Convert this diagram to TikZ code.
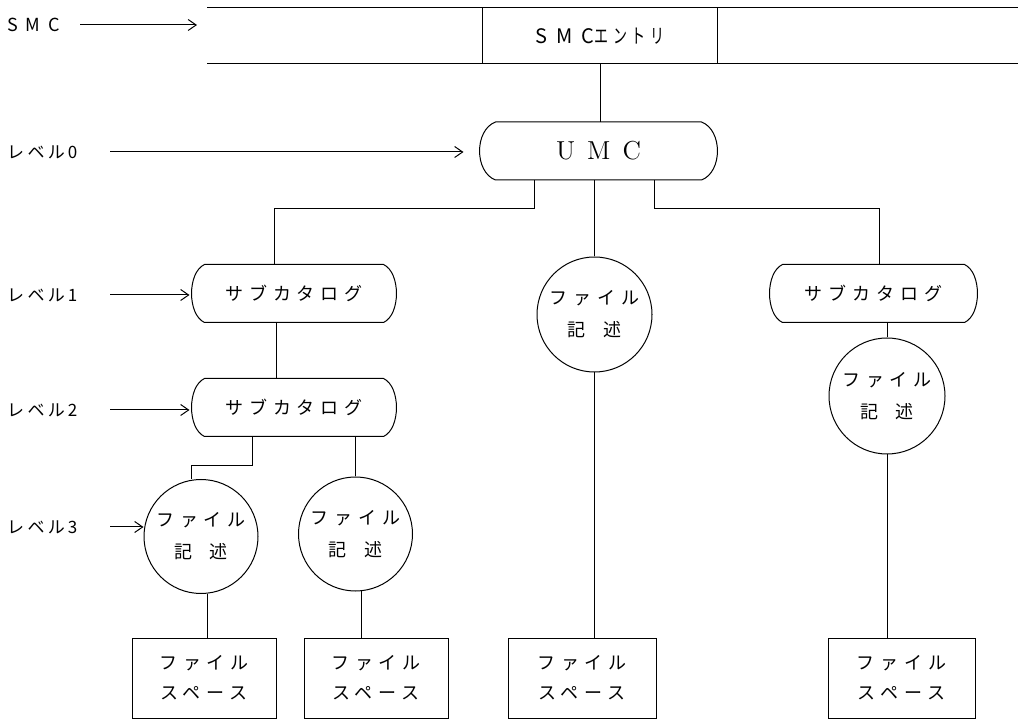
\documentclass[tikz,border=0pt]{standalone}
\usepackage{fontspec}
\usepackage{graphicx}
\newfontfamily\jpfont[LetterSpace=33]{Noto Sans CJK JP}
\newfontfamily\jplabel[LetterSpace=20]{Noto Sans CJK JP}
\newfontfamily\jpwide[LetterSpace=45]{Noto Sans CJK JP}
\usetikzlibrary{arrows.meta}
\tikzset{>={Straight Barb[length=4pt,width=5.5pt]}}
\tikzset{
  catalog/.style={minimum width=#1, minimum height=28.5pt, inner sep=0pt,
    font=\jpfont\fontsize{9}{11}\selectfont},
  filedesc/.style={circle, draw, minimum size=#1, inner sep=0pt, align=center,
    font=\jpfont\fontsize{9}{16}\selectfont},
  filespace/.style={draw, minimum width=#1, minimum height=40pt, inner sep=0pt,
    align=center, font=\jpfont\fontsize{9}{15}\selectfont},
  levellabel/.style={anchor=west, font=\jplabel\fontsize{8.5}{10}\selectfont},
  levelarrow/.style={->},
}
% 角の丸いカタログ枠
\newcommand\capsule[2]{%
  \draw ([xshift=#2]#1.north west) -- ([xshift=-#2]#1.north east)
    .. controls +(1.33*#2,-4pt) and +(1.33*#2,4pt) .. ([xshift=-#2]#1.south east)
    -- ([xshift=#2]#1.south west)
    .. controls +(-1.33*#2,4pt) and +(-1.33*#2,-4pt) .. cycle;}
\newcommand\kijutsu{記\hspace{9pt}述}

\begin{document}
\begin{tikzpicture}[x=0.5pt,y=-0.5pt,line width=0.5pt]
  \useasboundingbox (0,0) rectangle (1018,721);

  % SMC の帯
  \coordinate (bandnw) at (207,8);
  \coordinate (bandne) at (1018,8);
  \coordinate (bandsw) at (207,64);
  \coordinate (bandse) at (1018,64);
  \draw (bandnw) -- (bandne);
  \draw (bandsw) -- (bandse);
  \node[minimum width=117pt, minimum height=28pt, inner sep=0pt] (smc) at (600,36)
    {{\jpwide\fontsize{10}{12}\selectfont SMC}\scalebox{0.7}[1]{\jpfont\fontsize{10}{12}\selectfont エントリ}};
  \draw (smc.north west) -- (smc.south west);
  \draw (smc.north east) -- (smc.south east);

  % カタログ
  \node[catalog=118.5pt, font=\fontsize{13}{15}\selectfont] (umc) at (598.5,151) {U\hspace{6pt}M\hspace{6pt}C};
  \node[catalog=102pt] (sc1) at (294,293.5) {サブカタログ};
  \node[catalog=102pt] (sc2) at (294,407.5) {サブカタログ};
  \node[catalog=103.5pt] (sc3) at (873.5,293.5) {サブカタログ};
  \capsule{umc}{8pt}
  \capsule{sc1}{6.5pt}
  \capsule{sc2}{6.5pt}
  \capsule{sc3}{6.5pt}

  % ファイル記述
  \node[filedesc=57pt] (fd1) at (201,536.5) {ファイル\\\kijutsu};
  \node[filedesc=57pt] (fd2) at (355.5,534) {ファイル\\\kijutsu};
  \node[filedesc=57.5pt] (fd3) at (594.5,314.5) {ファイル\\\kijutsu};
  \node[filedesc=58pt] (fd4) at (887,396) {ファイル\\\kijutsu};

  % ファイルスペース
  \node[filespace=72pt] (fs1) at (204,678) {ファイル\\スペース};
  \node[filespace=72pt] (fs2) at (376,678) {ファイル\\スペース};
  \node[filespace=74pt] (fs3) at (582,678) {ファイル\\スペース};
  \node[filespace=73.5pt] (fs4) at (901.5,678) {ファイル\\スペース};

  % 接続線
  \draw (smc.south) -- (smc.south |- umc.north);
  \draw ([xshift=-32pt]umc.south) -- ++(0,29) -| ([xshift=-10pt]sc1.north);
  \draw (umc.south -| fd3.north) -- (fd3.north);
  \draw ([xshift=28pt]umc.south) -- ++(0,29) -| ([xshift=3pt]sc3.north);
  \draw ([xshift=-9pt]sc1.south) -- ([xshift=-9pt]sc2.north);
  \draw ([xshift=-21pt]sc2.south) -- ++(0,29) -| ([xshift=-5pt]fd1.north);
  \draw (sc2.south -| fd2.north) -- (fd2.north);
  \draw (sc3.south -| fd4.north) -- (fd4.north);
  \draw ([xshift=3pt]fd1.south) -- ([xshift=3pt]fd1.south |- fs1.north);
  \draw ([xshift=3pt]fd2.south) -- ([xshift=3pt]fd2.south |- fs2.north);
  \draw (fd3.south) -- (fd3.south |- fs3.north);
  \draw (fd4.south) -- (fd4.south |- fs4.north);

  % レベル
  \node[levellabel, font=\jpwide\fontsize{9}{11}\selectfont] (lsmc) at (0,25) {SMC};
  \node[levellabel] (lv0) at (0,152) {レベル\,0};
  \node[levellabel] (lv1) at (0,295) {レベル\,1};
  \node[levellabel] (lv2) at (0,410) {レベル\,2};
  \node[levellabel] (lv3) at (0,527) {レベル\,3};
  \coordinate (smctip) at (197,25);
  \draw[levelarrow] (80,25) -- (smctip);
  \draw[levelarrow] (110,152) -- ([xshift=-8pt]umc.west |- lv0);
  \draw[levelarrow] (110,295) -- ([xshift=-1pt]sc1.west |- lv1);
  \draw[levelarrow] (110,410) -- ([xshift=-1pt]sc2.west |- lv2);
  \draw[levelarrow] (110,527) -- (fd1.west |- lv3);
\end{tikzpicture}
\end{document}
